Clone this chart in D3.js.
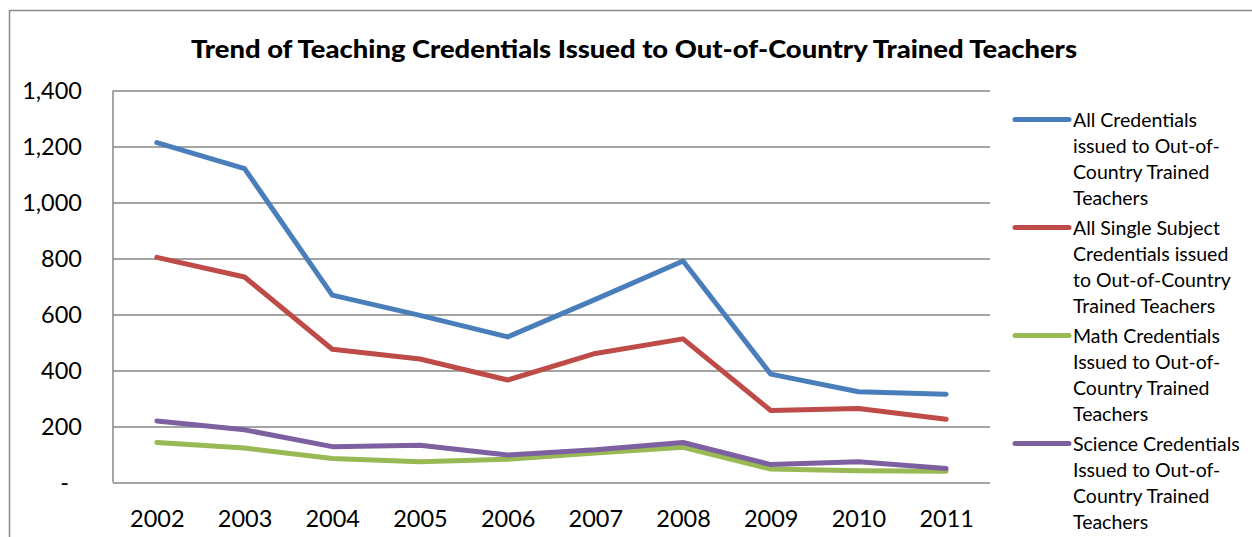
<!DOCTYPE html>
<html>
<head>
<meta charset="utf-8">
<script src="https://cdn.jsdelivr.net/npm/d3@7"></script>
<style>
  body { margin: 0; background: #fff; }
  svg { display: block; font-family: Lato, "Open Sans", sans-serif; }
</style>
</head>
<body>
<div class="chart"></div>
<script>
var years = ["2002","2003","2004","2005","2006","2007","2008","2009","2010","2011"];
var allCreds     = [1214, 1121, 669, 597, 520, 654, 791, 387, 324, 315];
var singleSubj   = [804, 734, 476, 441, 366, 461, 513, 257, 264, 226];
var mathCreds    = [143, 123, 86, 74, 83, 105, 126, 48, 42, 40];
var scienceCreds = [220, 188, 128, 133, 98, 117, 143, 64, 74, 50];
var yTicks = [0, 200, 400, 600, 800, 1000, 1200, 1400];
var seriesNames = [
  ["All Credentials", "issued to Out-of-", "Country Trained", "Teachers"],
  ["All Single Subject", "Credentials issued", "to Out-of-Country", "Trained Teachers"],
  ["Math Credentials", "Issued to Out-of-", "Country Trained", "Teachers"],
  ["Science Credentials", "Issued to Out-of-", "Country Trained", "Teachers"]
];
var colors = ["#4a7ebb", "#be4b48", "#98b954", "#7d60a0"];
var title = "Trend of Teaching Credentials Issued to Out-of-Country Trained Teachers";

function drawChart(){
  var W = 1252, H = 537;
  var plot = { left: 113, top: 90.5, right: 990, bottom: 482.5 };

  var svg = d3.select(".chart").append("svg")
              .attr("width", W)
              .attr("height", H);

  // outer chart frame (only top and left visible in the crop)
  svg.append("path")
     .attr("d", "M9.5," + (H + 5) + "V10.5H" + (W + 5))
     .attr("fill", "none")
     .attr("stroke", "#8a8a8a")
     .attr("stroke-width", 1.5);

  svg.append("text")
     .attr("x", 634)
     .attr("y", 58)
     .attr("text-anchor", "middle")
     .style("font-weight", "900")
     .style("font-size", "25px")
     .attr("textLength", 886)
     .attr("lengthAdjust", "spacingAndGlyphs")
     .text(title);

  var x = d3.scalePoint().domain(years).range([plot.left, plot.right]).padding(0.5);
  var y = d3.scaleLinear().domain([0, 1400]).range([plot.bottom, plot.top]);

  // gridlines
  var grid = svg.append("g")
                .attr("transform", "translate(" + plot.left + ",0)")
                .call(d3.axisLeft(y).tickValues(yTicks).tickSize(-(plot.right - plot.left)).tickFormat(""));
  grid.select(".domain").remove();
  grid.selectAll("line").attr("stroke", "#868686").attr("stroke-width", 1.5);

  // plot left edge
  svg.append("line")
     .attr("x1", plot.left).attr("x2", plot.left)
     .attr("y1", plot.top).attr("y2", plot.bottom)
     .attr("stroke", "#868686").attr("stroke-width", 1.5);

  // y labels
  var yAxis = svg.append("g")
                 .attr("transform", "translate(82,0)")
                 .call(d3.axisLeft(y).tickValues(yTicks).tickSize(0)
                         .tickFormat(function(d){ return d === 0 ? "-" : d3.format(",")(d); }));
  yAxis.select(".domain").remove();
  yAxis.selectAll("text")
       .attr("x", function(d){ return d === 0 ? -13 : 0; })
       .attr("dy", "0.36em")
       .style("font-family", "Lato, 'Open Sans', sans-serif")
       .style("font-size", "23.5px")
       .attr("fill", "#000");

  // x labels
  var xAxis = svg.append("g")
                 .attr("transform", "translate(0," + plot.bottom + ")")
                 .call(d3.axisBottom(x).tickSize(0));
  xAxis.select(".domain").remove();
  xAxis.selectAll("text")
       .attr("y", 44)
       .attr("dy", 0)
       .style("font-family", "Lato, 'Open Sans', sans-serif")
       .style("font-size", "23.5px")
       .attr("fill", "#000");

  var seriesData = [allCreds, singleSubj, mathCreds, scienceCreds];
  var line = d3.line()
               .x(function(d, i){ return x(years[i]); })
               .y(function(d){ return y(d); });

  // draw in Excel order: later series on top
  svg.append("g").selectAll("path")
     .data(seriesData)
     .enter()
     .append("path")
     .attr("d", line)
     .attr("fill", "none")
     .attr("stroke", function(d, i){ return colors[i]; })
     .attr("stroke-width", 5)
     .attr("stroke-linejoin", "round")
     .attr("stroke-linecap", "round");

  // legend
  var legend = svg.append("g");
  var items = legend.selectAll("g")
                    .data(seriesNames)
                    .enter()
                    .append("g")
                    .attr("transform", function(d, i){ return "translate(1013," + (119.5 + i * 108) + ")"; });
  items.append("line")
       .attr("x1", 2).attr("x2", 56)
       .attr("stroke", function(d, i){ return colors[i]; })
       .attr("stroke-width", 5)
       .attr("stroke-linecap", "round");
  items.selectAll("text")
       .data(function(d){ return d; })
       .enter()
       .append("text")
       .attr("x", 60)
       .attr("y", function(d, j){ return j * 26; })
       .attr("dy", "0.36em")
       .style("font-size", "19.5px")
       .attr("fill", "#000")
       .text(function(d){ return d; });
}

drawChart();
</script>
</body>
</html>
